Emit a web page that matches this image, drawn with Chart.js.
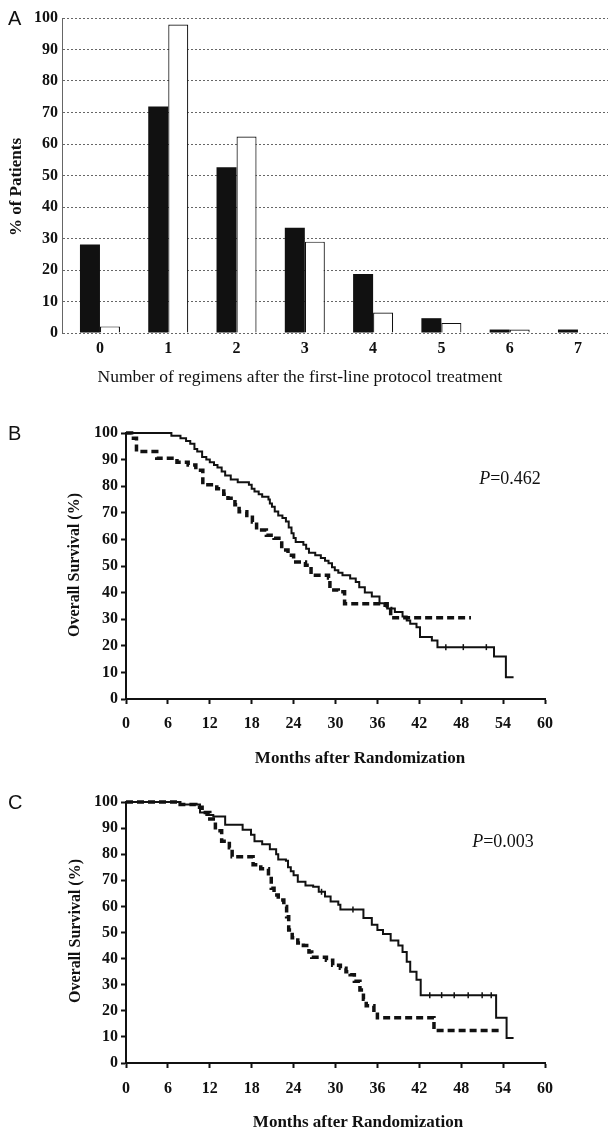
<!DOCTYPE html>
<html>
<head>
<meta charset="utf-8">
<script src="https://cdn.jsdelivr.net/npm/chart.js@4"></script>
<style>
  body { margin: 0; background: #fff; width: 608px; height: 1130px; overflow: hidden; position: relative; }
  canvas { position: absolute; left: 0; display: block; }
  .txt { position: absolute; white-space: nowrap; color: #111; font-family: "Liberation Serif", "Times New Roman", serif;
         transform: translate(-50%, -50%); line-height: 1; }
  .rot { transform: translate(-50%, -50%) rotate(-90deg); }
  .panel { position: absolute; font: 20px "Liberation Sans", Arial, sans-serif; color: #111; line-height: 1; }
</style>
</head>
<body>
<canvas id="chartA" width="608" height="395" style="top:0"></canvas>
<canvas id="chartB" width="608" height="375" style="top:395px"></canvas>
<canvas id="chartC" width="608" height="360" style="top:770px"></canvas>

<div class="panel" style="left:8px;top:8px">A</div>
<div class="panel" style="left:8px;top:423px">B</div>
<div class="panel" style="left:8px;top:792px">C</div>

<div class="txt" style="left:300px;top:377px;font-size:17.5px">Number of regimens after the first-line protocol treatment</div>
<div class="txt rot" style="left:15px;top:187px;font-size:17px;font-weight:bold">% of Patients</div>

<div class="txt" style="left:360px;top:757px;font-size:17px;font-weight:bold">Months after Randomization</div>
<div class="txt rot" style="left:74px;top:565px;font-size:16px;font-weight:bold">Overall Survival (%)</div>
<div class="txt" style="left:510px;top:478px;font-size:18px"><i>P</i>=0.462</div>

<div class="txt" style="left:358px;top:1121px;font-size:17px;font-weight:bold">Months after Randomization</div>
<div class="txt rot" style="left:75px;top:931px;font-size:16px;font-weight:bold">Overall Survival (%)</div>
<div class="txt" style="left:503px;top:841px;font-size:18px"><i>P</i>=0.003</div>

<script>
// ---- data ----
const regimenCats = ["0", "1", "2", "3", "4", "5", "6", "7"];
const blackBars = [28.1, 71.9, 52.6, 33.4, 18.7, 4.7, 1.1, 1.1];
const whiteBars = [2.1, 97.9, 62.4, 29.0, 6.5, 3.2, 1.1, null];
const pctTicks = [0, 10, 20, 30, 40, 50, 60, 70, 80, 90, 100];
const monthTicks = [0, 6, 12, 18, 24, 30, 36, 42, 48, 54, 60];

// panel B: Kaplan-Meier steps (month, % surviving)
const bSolidT = [0, 6.5, 7.8, 8.6, 9.2, 9.8, 10.2, 10.9, 11.5, 12.0, 12.6, 13.1, 13.7, 14.2, 15.0, 16.0, 17.6, 18.0, 18.4, 19.0, 19.5, 20.4, 20.6, 20.9, 21.3, 21.8, 22.4, 22.9, 23.3, 23.7, 24.0, 24.3, 25.4, 25.8, 26.2, 27.1, 27.9, 28.5, 29.0, 29.5, 29.9, 30.4, 31.0, 32.1, 32.9, 33.4, 34.2, 35.2, 36.3, 37.0, 37.4, 38.5, 39.6, 40.2, 40.7, 41.6, 42.1, 43.8, 44.6, 52.7, 54.4, 55.5];
const bSolidS = [100, 99, 98, 97, 96, 94, 93, 91, 90, 89, 88, 87, 85.5, 84, 82.5, 81.5, 80.5, 79, 78, 77, 76, 75, 73.5, 72.3, 70.5, 69, 68, 66.7, 64.5, 62.3, 60.5, 59, 58, 56.5, 55, 54, 53, 52, 51, 49.5, 48.4, 47.5, 46.5, 45.3, 44, 42, 40, 38.5, 36, 35, 34, 32.7, 31, 29.5, 28.3, 27, 23.3, 22, 19.5, 16, 8.2, 8.2];
const bDashT = [0, 0.8, 1.5, 4.4, 7.3, 8.9, 10.0, 11.0, 13.0, 14.0, 14.6, 15.6, 16.2, 17.3, 18.1, 18.7, 20.1, 21.2, 22.3, 23.2, 24.0, 25.7, 26.5, 29.0, 29.2, 30.4, 31.3, 37.4, 37.9, 49.4];
const bDashS = [100, 98, 93, 90.5, 89, 88, 86, 80.5, 79, 77, 75.5, 73, 70.4, 69, 66.5, 63.5, 61.6, 60.4, 56, 54, 51.5, 50.3, 46.5, 45.5, 41, 40.3, 35.8, 34, 30.5, 30.5];
// censored observations on the solid curve
const bCensorT = [45.8, 48.3, 51.6];
const bCensorS = [19.5, 19.5, 19.5];

// panel C
const cSolidT = [0, 7.8, 10.6, 11.5, 12.5, 14.2, 16.7, 17.9, 18.4, 19.5, 20.6, 21.5, 21.8, 22.9, 23.2, 23.6, 24.0, 24.6, 25.7, 26.8, 27.6, 28.5, 29.3, 30.4, 30.7, 34.0, 35.2, 36.0, 36.8, 37.9, 39.0, 39.6, 40.2, 40.7, 41.6, 42.2, 53.0, 54.5, 55.5];
const cSolidS = [100, 99, 96, 95, 94.4, 91.3, 89.4, 87.5, 85, 83.8, 81.9, 80, 78, 77.5, 75, 73.5, 71.9, 69.4, 68, 67.5, 65.6, 63.8, 61.9, 60.6, 58.8, 55.6, 53, 51, 49.4, 46.9, 45, 42.5, 38.8, 35, 31.9, 26, 17.3, 9.6, 9.6];
const cDashT = [0, 7.5, 10.0, 10.9, 12.0, 12.8, 13.7, 14.8, 15.2, 18.2, 19.3, 20.4, 20.8, 21.2, 21.8, 22.6, 23.0, 23.3, 23.8, 24.6, 25.4, 26.2, 26.6, 28.7, 29.6, 30.7, 31.5, 32.1, 32.7, 33.5, 34.0, 34.4, 35.5, 36.0, 44.1, 53.5];
const cDashS = [100, 99, 98, 96, 93.5, 89, 85, 82.5, 79, 76, 74.4, 72.5, 67, 64.4, 62.5, 60, 56, 51, 48, 46, 45, 42.5, 40.5, 39.4, 37.5, 36.3, 35, 33.8, 31.3, 28, 24.4, 21.9, 19.5, 17.3, 12.5, 12.5];
const cCensorT = [43.5, 45.2, 47.0, 49.0, 51.0, 52.3, 28.0, 32.5];
const cCensorS = [26, 26, 26, 26, 26, 26, 65.6, 58.8];

const SERIF = '"Liberation Serif", "Times New Roman", serif';
Chart.defaults.font.family = SERIF;
Chart.defaults.color = "#111";
Chart.defaults.animation = false;

const tickFont = { family: SERIF, size: 16, weight: "bold" };
const dotted = "rgba(0,0,0,0.6)";

// ---- A: regimens bar chart ----
new Chart(document.getElementById("chartA"), {
  type: "bar",
  data: {
    datasets: [
      {
        label: "black",
        data: blackBars.map((v, i) => ({ x: i, y: v })),
        backgroundColor: "#111",
        borderWidth: 0,
      },
      {
        label: "white",
        data: whiteBars.map((v, i) => ({ x: i, y: v })),
        backgroundColor: "#fff",
        borderColor: "#111",
        borderWidth: 1.2,
      }
    ]
  },
  options: {
    responsive: false,
    layout: { padding: { top: 18, left: 0, right: 0, bottom: 0 } },
    categoryPercentage: 0.586,
    barPercentage: 1.0,
    plugins: { legend: { display: false }, tooltip: { enabled: false } },
    scales: {
      x: {
        type: "linear",
        offset: false,
        min: -0.556,
        max: 7.44,
        afterBuildTicks: (s) => { s.ticks = regimenCats.map((c, i) => ({ value: i })); },
        afterFit: (s) => { s.height = 62; },
        grid: { display: false, drawTicks: false },
        border: { display: false },
        ticks: { font: tickFont, padding: 6, callback: (v, i) => regimenCats[i] }
      },
      y: {
        min: 0,
        max: 100,
        afterBuildTicks: (s) => { s.ticks = pctTicks.map(v => ({ value: v })); },
        afterFit: (s) => { s.width = 62; },
        grid: { color: dotted, lineWidth: 1, drawTicks: false },
        border: { display: true, color: dotted, width: 1, dash: [2, 2] },
        ticks: { font: tickFont, padding: 4 }
      }
    }
  }
});

// ---- B / C: survival curves ----
function makeKM(el, solidT, solidS, dashT, dashS, censT, censS, pad, xHeight, xPad) {
  return new Chart(el, {
    type: "line",
    data: {
      datasets: [
        {
          label: "solid",
          data: solidT.map((t, i) => ({ x: t, y: solidS[i] })),
          borderColor: "#111",
          borderWidth: 2,
          stepped: true,
          pointRadius: 0,
          clip: false,
        },
        {
          label: "dashed",
          data: dashT.map((t, i) => ({ x: t, y: dashS[i] })),
          borderColor: "#111",
          borderWidth: 3.5,
          borderDash: [7, 4],
          stepped: true,
          pointRadius: 0,
          clip: false,
        },
        {
          label: "censored",
          data: censT.map((t, i) => ({ x: t, y: censS[i] })),
          showLine: false,
          pointStyle: "line",
          rotation: 90,
          pointRadius: 3,
          borderColor: "#111",
          borderWidth: 1.5,
        }
      ]
    },
    options: {
      responsive: false,
      layout: { padding: pad },
      plugins: { legend: { display: false }, tooltip: { enabled: false } },
      scales: {
        x: {
          type: "linear",
          min: 0,
          max: 60,
          afterBuildTicks: (s) => { s.ticks = monthTicks.map(v => ({ value: v })); },
          afterFit: (s) => { s.height = xHeight; },
          grid: { drawOnChartArea: false, drawTicks: true, tickLength: 5, tickWidth: 2, tickColor: "#111" },
          border: { display: true, color: "#111", width: 2 },
          ticks: { font: tickFont, padding: xPad }
        },
        y: {
          min: 0,
          max: 100,
          afterBuildTicks: (s) => { s.ticks = pctTicks.map(v => ({ value: v })); },
          afterFit: (s) => { s.width = 126; },
          grid: { drawOnChartArea: false, drawTicks: true, tickLength: 5, tickWidth: 2, tickColor: "#111" },
          border: { display: true, color: "#111", width: 2 },
          ticks: { font: tickFont, padding: 3 }
        }
      }
    }
  });
}

makeKM(document.getElementById("chartB"), bSolidT, bSolidS, bDashT, bDashS, bCensorT, bCensorS,
  { top: 38, right: 63, left: 0, bottom: 0 }, 71, 10);
makeKM(document.getElementById("chartC"), cSolidT, cSolidS, cDashT, cDashS, cCensorT, cCensorS,
  { top: 32, right: 63, left: 0, bottom: 0 }, 67, 11);
</script>
</body>
</html>
